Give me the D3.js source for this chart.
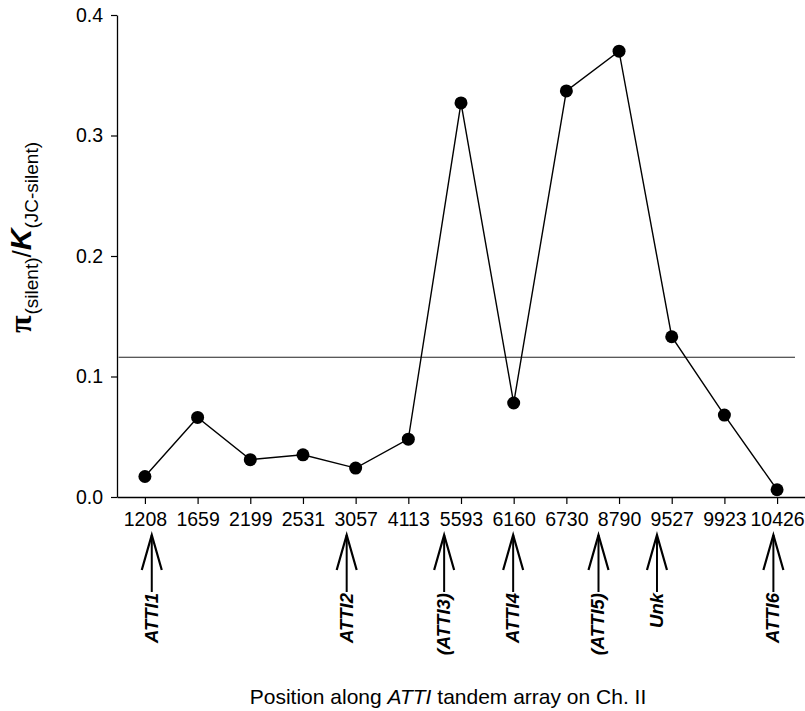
<!DOCTYPE html>
<html>
<head>
<meta charset="utf-8">
<script src="https://cdn.jsdelivr.net/npm/d3@7"></script>
<style>
  body { margin: 0; background: #fff; }
  svg { display: block; }
</style>
</head>
<body>
<svg id="chart" width="805" height="711"></svg>
<script>
// ---- data ----
const positions = ["1208","1659","2199","2531","3057","4113","5593","6160","6730","8790","9527","9923","10426"];
const ratio = [0.017, 0.066, 0.031, 0.035, 0.024, 0.048, 0.327, 0.078, 0.337, 0.370, 0.133, 0.068, 0.006];
const meanRatio = 0.116;
const yTicks = [0.0, 0.1, 0.2, 0.3, 0.4];
const arrowLabels = ["ATTI1", "ATTI2", "(ATTI3)", "ATTI4", "(ATTI5)", "Unk", "ATTI6"];
const arrowAt = [0.13, 3.83, 5.68, 6.99, 8.61, 9.72, 11.93]; // position in category-index units

// ---- layout ----
const svg = d3.select("#chart");
const x = d3.scaleLinear().domain([-0.53, 12.53]).range([117, 805]);
const y = d3.scaleLinear().domain([0, 0.4]).range([497, 15]);
const font = "Liberation Sans, Arial, Helvetica, sans-serif";

// y axis
const yAxis = svg.append("g")
  .attr("transform", `translate(${x(-0.53)},0)`)
  .call(d3.axisLeft(y).tickValues(yTicks).tickFormat(d3.format(".1f")).tickSize(6).tickSizeOuter(0).tickPadding(8));
yAxis.select(".domain").attr("stroke", "#000").attr("stroke-width", 1.3);
yAxis.selectAll(".tick line").attr("stroke", "#000").attr("stroke-width", 1.2);
yAxis.selectAll(".tick text").attr("font-family", font).attr("font-size", 19.5).attr("fill", "#000");

// x axis
const xAxis = svg.append("g")
  .attr("transform", `translate(0,${y(0)})`)
  .call(d3.axisBottom(x).tickValues(d3.range(positions.length)).tickFormat(i => positions[i]).tickSize(7).tickSizeOuter(0).tickPadding(8));
xAxis.select(".domain").attr("stroke", "#000").attr("stroke-width", 1.3);
xAxis.selectAll(".tick line").attr("stroke", "#000").attr("stroke-width", 1.2);
xAxis.selectAll(".tick text").attr("font-family", font).attr("font-size", 19.5).attr("fill", "#000");

// mean reference line
svg.append("line")
  .attr("x1", x(-0.5)).attr("x2", x(12.34))
  .attr("y1", y(meanRatio)).attr("y2", y(meanRatio))
  .attr("stroke", "#222").attr("stroke-width", 1.1);

// series line
const line = d3.line().x((d, i) => x(i)).y(d => y(d));
svg.append("path")
  .datum(ratio)
  .attr("d", line)
  .attr("fill", "none")
  .attr("stroke", "#000")
  .attr("stroke-width", 1.4);

svg.selectAll("circle.pt")
  .data(ratio)
  .join("circle")
  .attr("class", "pt")
  .attr("cx", (d, i) => x(i))
  .attr("cy", d => y(d))
  .attr("r", 6.5)
  .attr("fill", "#000");

// arrows with labels
const tipY = 535, armY = 570, shaftEnd = 592;
const arrows = svg.append("g").selectAll("g").data(arrowLabels).join("g");
arrows.append("line")
  .attr("x1", (d, i) => x(arrowAt[i])).attr("x2", (d, i) => x(arrowAt[i]))
  .attr("y1", tipY).attr("y2", shaftEnd)
  .attr("stroke", "#000").attr("stroke-width", 2);
arrows.append("path")
  .attr("d", (d, i) => {
    const ax = x(arrowAt[i]);
    return `M${ax - 10},${armY}L${ax},${tipY}L${ax + 10},${armY}`;
  })
  .attr("fill", "none").attr("stroke", "#000").attr("stroke-width", 2.2);
arrows.append("text")
  .attr("transform", (d, i) => `translate(${x(arrowAt[i]) + 6},${shaftEnd + 1}) rotate(-90)`)
  .attr("text-anchor", "end")
  .attr("font-family", font)
  .attr("font-size", 18.5)
  .attr("font-weight", "bold")
  .attr("font-style", "italic")
  .attr("fill", "#000")
  .text(d => d);

// y axis title
const yt = svg.append("text")
  .attr("transform", "translate(31,333) rotate(-90)")
  .attr("font-family", font)
  .attr("fill", "#000");
yt.append("tspan").attr("font-family", "Liberation Serif, serif").attr("font-weight", "bold").attr("font-size", 32).text("π");
yt.append("tspan").attr("font-size", 19).attr("dy", 7).attr("dx", 1).text("(silent)");
yt.append("tspan").attr("font-size", 26).attr("dy", -7).text("/");
yt.append("tspan").attr("font-size", 30).attr("font-weight", "bold").attr("font-style", "italic").text("K");
yt.append("tspan").attr("font-size", 19).attr("dy", 7).text("(JC-silent)");

// x axis title
const xt = svg.append("text")
  .attr("x", 448).attr("y", 704)
  .attr("text-anchor", "middle")
  .attr("font-family", font)
  .attr("font-size", 21)
  .attr("fill", "#000");
xt.append("tspan").text("Position along ");
xt.append("tspan").attr("font-style", "italic").text("ATTI");
xt.append("tspan").text(" tandem array on Ch. II");
</script>
</body>
</html>
